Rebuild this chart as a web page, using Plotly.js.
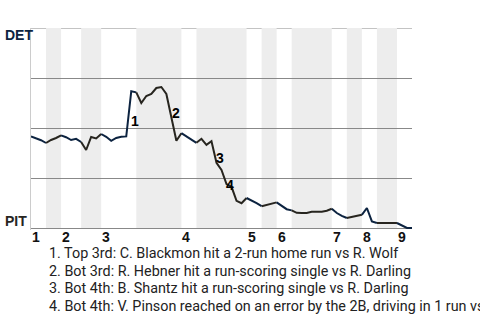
<!DOCTYPE html>
<html>
<head>
<meta charset="utf-8">
<script src="https://cdn.plot.ly/plotly-3.0.1.min.js"></script>
<style>html,body{margin:0;padding:0;background:#fff;}#chart{width:480px;height:320px;}</style>
</head>
<body>
<div id="chart"></div>
<script>
// Plate appearances per half-inning (Top 1, Bot 1, Top 2, ... Top 9)
var halfInningPAs = [3,3,4,4,7,9,3,10,3,3,3,8,3,3,3,4,3];
var inningLabels = ['1','2','3','4','5','6','7','8','9'];
// DET win probability after each plate appearance
var winProb = [
  0.458,0.45,0.439,0.425,0.44,0.45,0.463,0.454,0.44,0.446,0.43,0.39,0.455,0.448,0.47,0.456,0.436,0.45,0.456,0.458,
  0.684,0.678,0.625,0.66,0.67,0.70,0.705,0.67,0.55,0.436,0.474,0.459,0.44,0.426,0.446,0.416,0.434,0.326,0.29,0.22,
  0.206,0.136,0.124,0.15,0.139,0.124,0.109,0.116,0.12,0.128,0.11,0.094,0.088,0.076,0.075,0.075,0.081,0.081,0.081,0.086,
  0.096,0.075,0.061,0.05,0.056,0.061,0.066,0.10,0.033,0.025,0.025,0.025,0.025,0.025,0.012,0.0,0.0
];
var eventLabels = ['1','2','3','4'];
var eventTexts = [
  '1. Top 3rd: C. Blackmon hit a 2-run home run vs R. Wolf',
  '2. Bot 3rd: R. Hebner hit a run-scoring single vs R. Darling',
  '3. Bot 4th: B. Shantz hit a run-scoring single vs R. Darling',
  '4. Bot 4th: V. Pinson reached on an error by the 2B, driving in 1 run vs R. Darling'
];
var teamTop = 'DET', teamBottom = 'PIT';

var topColor = '#0C2340', botColor = '#27251F';
var bounds = [0];
halfInningPAs.forEach(function(n){ bounds.push(bounds[bounds.length-1] + n); });
var total = bounds[bounds.length-1];

var traces = [];
var shapes = [];
for (var h = 0; h < halfInningPAs.length; h++) {
  var xs = [], ys = [];
  for (var i = bounds[h]; i <= bounds[h+1]; i++) { xs.push(i); ys.push(winProb[i]); }
  traces.push({x: xs, y: ys, type: 'scatter', mode: 'lines', hoverinfo: 'skip',
    line: {color: (h % 2 === 0) ? topColor : botColor, width: 2}, showlegend: false});
  if (h % 2 === 1) {
    shapes.push({type: 'rect', xref: 'x', yref: 'y', x0: bounds[h], x1: bounds[h+1], y0: 0, y1: 1,
      fillcolor: '#ededed', line: {width: 0}, layer: 'below'});
  }
}
// top gridline
shapes.push({type: 'line', xref: 'paper', yref: 'y', x0: 0, x1: 1, y0: 1, y1: 1,
  line: {color: '#888', width: 1}, layer: 'below'});

var annotations = [];
var boldFont = 'Liberation Sans, Arial, sans-serif';
// inning numbers
for (var k = 0; k < inningLabels.length; k++) {
  annotations.push({x: bounds[2*k] + 1, y: -0.0371, xref: 'x', yref: 'paper', text: inningLabels[k],
    showarrow: false, xanchor: 'center', yanchor: 'middle',
    font: {family: boldFont, size: 14, color: '#111', weight: 'bold'}});
}
// event markers on the chart
var evPos = [[20.65, 0.535], [28.83, 0.576], [37.71, 0.35], [39.6, 0.217]];
for (var e = 0; e < eventLabels.length; e++) {
  annotations.push({x: evPos[e][0], y: evPos[e][1], xref: 'x', yref: 'y', text: eventLabels[e],
    showarrow: false, xanchor: 'center', yanchor: 'middle',
    font: {family: boldFont, size: 14, color: '#000', weight: 'bold'}});
}
// event descriptions
var lineY = [-0.1139, -0.203, -0.292, -0.381];
for (var t = 0; t < eventTexts.length; t++) {
  annotations.push({x: 0.042, y: lineY[t], xref: 'paper', yref: 'paper', text: eventTexts[t],
    showarrow: false, xanchor: 'left', yanchor: 'middle', align: 'left',
    font: {family: 'Roboto, sans-serif', size: 14.35, color: '#222'}});
}
// team labels
annotations.push({x: -0.0735, y: 0.965, xref: 'paper', yref: 'y', text: teamTop, showarrow: false,
  xanchor: 'left', yanchor: 'middle', font: {family: boldFont, size: 14, color: topColor, weight: 'bold'}});
annotations.push({x: -0.0735, y: 0.0335, xref: 'paper', yref: 'y', text: teamBottom, showarrow: false,
  xanchor: 'left', yanchor: 'middle', font: {family: boldFont, size: 14, color: botColor, weight: 'bold'}});

var layout = {
  width: 480, height: 320,
  margin: {l: 31, r: 68, t: 28, b: 90, pad: 0},
  paper_bgcolor: '#fff', plot_bgcolor: '#fff',
  xaxis: {range: [0, total], showgrid: false, zeroline: false, showticklabels: false, ticks: '', showline: false, fixedrange: true},
  yaxis: {range: [-0.01, 1], tickvals: [0, 0.25, 0.5, 0.75, 1], showgrid: true, gridcolor: '#888', gridwidth: 1,
    zeroline: false, showticklabels: false, ticks: '', showline: true, linecolor: '#ccc', linewidth: 1, fixedrange: true},
  shapes: shapes,
  annotations: annotations,
  showlegend: false
};
Plotly.newPlot('chart', traces, layout, {staticPlot: true, displayModeBar: false});
</script>
</body>
</html>
